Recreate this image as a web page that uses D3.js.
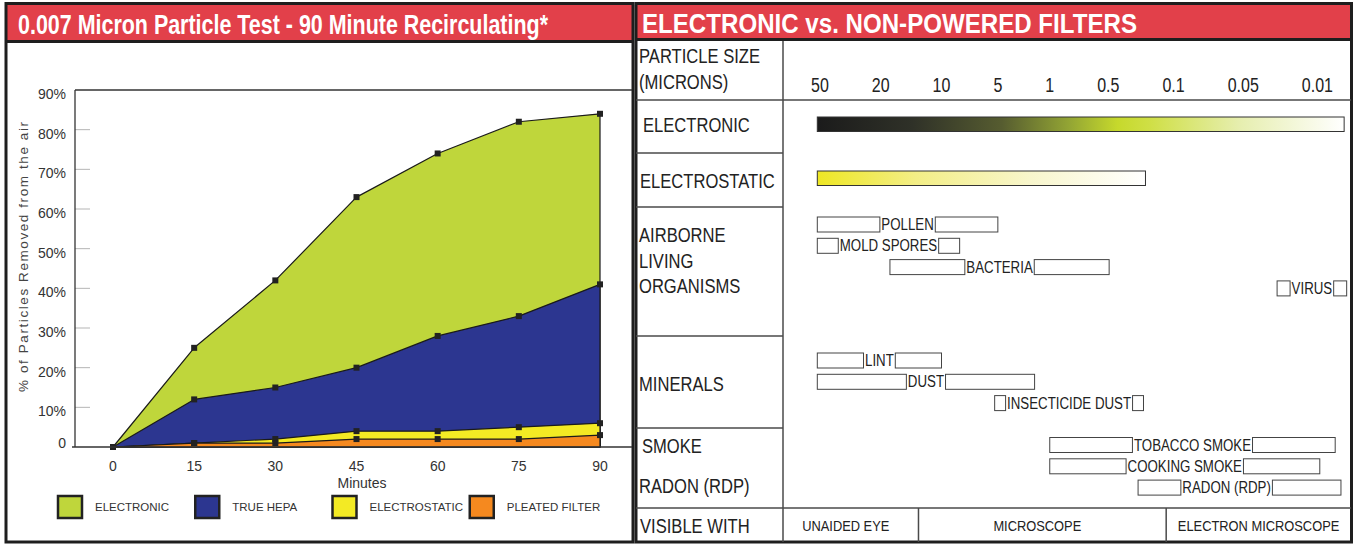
<!DOCTYPE html>
<html><head><meta charset="utf-8">
<script src="https://cdn.jsdelivr.net/npm/d3@7"></script>
<style>body{margin:0;background:#fff}</style>
</head><body><svg id="c" width="1357" height="544"></svg>
<script>
// ---------------- DATA ----------------
const minutes = [0, 15, 30, 45, 60, 75, 90];
const electronic = [0, 25, 42, 63, 74, 82, 84];
const trueHepa = [0, 12, 15, 20, 28, 33, 41];
const electrostatic = [0, 1, 2, 4, 4, 5, 6];
const pleatedFilter = [0, 1, 1, 2, 2, 2, 3];
const seriesNames = ["ELECTRONIC", "TRUE HEPA", "ELECTROSTATIC", "PLEATED FILTER"];
const yTickValues = [0, 10, 20, 30, 40, 50, 60, 70, 80, 90];
const xTickValues = [0, 15, 30, 45, 60, 75, 90];

const sizeTicks = [50, 20, 10, 5, 1, 0.5, 0.1, 0.05, 0.01];
const sizeTickLabels = ["50", "20", "10", "5", "1", "0.5", "0.1", "0.05", "0.01"];
const filterNames = ["ELECTRONIC", "ELECTROSTATIC"];
const filterFrom = [52, 52];
const filterTo = [0.0056, 0.2];
const particleNames = ["POLLEN", "MOLD SPORES", "BACTERIA", "VIRUS", "LINT", "DUST", "INSECTICIDE DUST", "TOBACCO SMOKE", "COOKING SMOKE", "RADON (RDP)"];
const particleGroup = [0, 0, 0, 0, 1, 1, 1, 2, 2, 2];
const particleFrom = [52, 52, 18, 0.024, 52, 52, 5.2, 1, 1, 0.24];
const particleTo = [5, 8, 0.49, 0.0053, 10, 1.6, 0.21, 0.0068, 0.0095, 0.006];
const particleLabelAt = [null, null, null, null, null, null, null, null, null, 0.059];
const visibleWith = ["UNAIDED EYE", "MICROSCOPE", "ELECTRON MICROSCOPE"];
const visibleLimits = [13, 0.12];
const leftTitle = "0.007 Micron Particle Test - 90 Minute Recirculating*";
const rightTitle = "ELECTRONIC vs. NON-POWERED FILTERS";
const rowLabelLines = [["PARTICLE SIZE", "(MICRONS)"], ["ELECTRONIC"], ["ELECTROSTATIC"], ["AIRBORNE", "LIVING", "ORGANISMS"], ["MINERALS"], ["SMOKE"], ["RADON (RDP)"], ["VISIBLE WITH"]];

// ---------------- STYLE / LAYOUT ----------------
const RED = "#e2404a", DARK = "#1e1e1e", LINE = "#4a4a4a";
const sans = "'Liberation Sans',Arial,Helvetica,sans-serif";
const areaColors = ["#bfd63b", "#2c3690", "#f3ea24", "#f5891f"];

function condense(sel, f) {
  const w = sel.node().getComputedTextLength() * f;
  sel.attr("textLength", w).attr("lengthAdjust", "spacingAndGlyphs");
  return w;
}

const svg = d3.select("#c");
svg.append("rect").attr("width", 1357).attr("height", 544).attr("fill", "#fff");
const defs = svg.append("defs");

// ---------- panels ----------
function panel(x0, x1, redBottom) {
  svg.append("rect").attr("x", x0).attr("y", 4).attr("width", x1 - x0).attr("height", redBottom - 4).attr("fill", RED);
  svg.append("line").attr("x1", x0).attr("x2", x1).attr("y1", redBottom + 1.5).attr("y2", redBottom + 1.5)
    .attr("stroke", DARK).attr("stroke-width", 3);
  svg.append("rect").attr("x", x0).attr("y", 3.5).attr("width", x1 - x0).attr("height", 538.5)
    .attr("fill", "none").attr("stroke", DARK).attr("stroke-width", 3);
}
panel(6, 633, 40);
panel(636, 1351.5, 38);

svg.append("text").attr("x", 18).attr("y", 34).text(leftTitle)
  .attr("font-family", sans).attr("font-weight", "bold").attr("font-size", 27.5).attr("fill", "#fff")
  .attr("textLength", 530).attr("lengthAdjust", "spacingAndGlyphs");
svg.append("text").attr("x", 642).attr("y", 33).text(rightTitle)
  .attr("font-family", sans).attr("font-weight", "bold").attr("font-size", 27.5).attr("fill", "#fff")
  .attr("textLength", 495).attr("lengthAdjust", "spacingAndGlyphs");

// ---------- LEFT CHART ----------
const x = d3.scaleLinear().domain([0, 90]).range([113, 600]);
const y = d3.scaleLinear().domain([0, 90]).range([447, 90]);
const g = svg.append("g");

g.selectAll(".gt").data(yTickValues.filter(v => v > 0 && v < 90)).join("line")
  .attr("x1", 75).attr("x2", 90).attr("y1", d => y(d)).attr("y2", d => y(d))
  .attr("stroke", "#b5b5b5").attr("stroke-width", 1);

const seriesVals = [electronic, trueHepa, electrostatic, pleatedFilter];
const area = d3.area().x((d, i) => x(minutes[i])).y0(y(0)).y1(d => y(d));
seriesVals.forEach((vals, k) => {
  g.append("path").attr("d", area(vals)).attr("fill", areaColors[k])
    .attr("stroke", "#1a1a1a").attr("stroke-width", 1.2).attr("stroke-linejoin", "round");
});
seriesVals.forEach(vals => {
  g.selectAll(null).data(vals).join("rect")
    .attr("x", (d, i) => x(minutes[i]) - 3).attr("y", d => y(d) - 3)
    .attr("width", 6).attr("height", 6).attr("fill", "#222");
});

g.append("line").attr("x1", 75).attr("x2", 632).attr("y1", y(90)).attr("y2", y(90)).attr("stroke", "#333").attr("stroke-width", 1.3);
g.append("line").attr("x1", 75).attr("x2", 75).attr("y1", y(90)).attr("y2", y(0)).attr("stroke", "#333").attr("stroke-width", 1.3);
g.append("line").attr("x1", 72).attr("x2", 632).attr("y1", y(0)).attr("y2", y(0)).attr("stroke", "#333").attr("stroke-width", 1.5);

g.selectAll(".yl").data(yTickValues).join("text")
  .attr("x", 66).attr("y", d => d === 0 ? y(d) - 4 : y(d) + 4)
  .attr("dominant-baseline", "central").attr("text-anchor", "end")
  .attr("font-family", sans).attr("font-size", 14).attr("fill", "#333")
  .text(d => d === 0 ? "0" : d + "%");
g.selectAll(".xl").data(xTickValues).join("text")
  .attr("x", d => x(d)).attr("y", 471).attr("text-anchor", "middle")
  .attr("font-family", sans).attr("font-size", 14).attr("fill", "#333").text(d => d);
g.append("text").attr("x", 362).attr("y", 488).attr("text-anchor", "middle")
  .attr("font-family", sans).attr("font-size", 14).attr("fill", "#333").text("Minutes");
g.append("text").attr("transform", "translate(23,257) rotate(-90)")
  .attr("text-anchor", "middle").attr("dominant-baseline", "central")
  .attr("font-family", sans).attr("font-size", 13.5).attr("fill", "#444")
  .attr("textLength", 270).attr("lengthAdjust", "spacing")
  .text("% of Particles Removed from the air");

const lg = d3.scaleBand().domain(seriesNames).range([57, 606]);
const leg = g.selectAll(".leg").data(seriesNames).join("g").attr("transform", d => `translate(${lg(d)},495)`);
leg.append("rect").attr("x", 1).attr("y", 1).attr("width", 24).attr("height", 22)
  .attr("fill", (d, i) => areaColors[i]).attr("stroke", "#222").attr("stroke-width", 2.5);
leg.append("text").attr("x", 38).attr("y", 16).attr("font-family", sans).attr("font-size", 11.5)
  .attr("fill", "#333").text(d => d);

// ---------- RIGHT TABLE ----------
const T = svg.append("g");
const colX = 783, tRight = 1351;
[100, 508].forEach(yy => T.append("line").attr("x1", 636).attr("x2", tRight).attr("y1", yy).attr("y2", yy).attr("stroke", LINE).attr("stroke-width", 1.5));
[153, 207, 336, 428].forEach(yy => T.append("line").attr("x1", 636).attr("x2", colX).attr("y1", yy).attr("y2", yy).attr("stroke", LINE).attr("stroke-width", 1.5));
T.append("line").attr("x1", colX).attr("x2", colX).attr("y1", 41).attr("y2", 542).attr("stroke", LINE).attr("stroke-width", 1.5);

const rowLabelY = [[56, 82], [125], [181], [235, 261, 286], [384], [446], [486], [526]];
const rowLabelX = [[639, 639], [643], [640], [639, 639, 639], [639], [642], [639], [640]];
rowLabelLines.forEach((lines, r) => {
  lines.forEach((t, j) => {
    const s = T.append("text").attr("x", rowLabelX[r][j]).attr("y", rowLabelY[r][j]).attr("dominant-baseline", "central")
      .attr("font-family", sans).attr("font-size", 19.5).attr("fill", "#222").text(t);
    condense(s, 0.85);
  });
});

let cursor = 811;
const centers = [];
sizeTickLabels.forEach(lbl => {
  const t = T.append("text").attr("x", cursor).attr("y", 92)
    .attr("font-family", sans).attr("font-size", 20).attr("fill", "#222").text(lbl);
  const w = condense(t, 0.8);
  centers.push(cursor + w / 2);
  cursor += w + 43;
});
const sx = d3.scaleLog().domain(sizeTicks).range(centers);

const gE = defs.append("linearGradient").attr("id", "gE");
[[0, "#1b1b1b"], [0.18, "#2f3128"], [0.35, "#565c30"], [0.48, "#94a634"], [0.57, "#c6d92c"], [0.63, "#cfdf45"], [0.8, "#e6eeae"], [1, "#ffffff"]]
  .forEach(s => gE.append("stop").attr("offset", s[0]).attr("stop-color", s[1]));
const gS = defs.append("linearGradient").attr("id", "gS");
[[0, "#eee724"], [0.3, "#f3ee86"], [0.65, "#f8f6cc"], [1, "#ffffff"]]
  .forEach(s => gS.append("stop").attr("offset", s[0]).attr("stop-color", s[1]));

const filterTop = [117, 171];
const filterFill = ["url(#gE)", "url(#gS)"];
filterNames.forEach((n, i) => {
  T.append("rect").attr("x", sx(filterFrom[i])).attr("y", filterTop[i])
    .attr("width", sx(filterTo[i]) - sx(filterFrom[i])).attr("height", 14.5)
    .attr("fill", filterFill[i]).attr("stroke", "#333").attr("stroke-width", 1);
});

const groupTop = [217, 353, 437.5];
const itemStep = 21.3;
const groupCount = [0, 0, 0];
particleNames.forEach((name, i) => {
  const gi = particleGroup[i];
  const top = groupTop[gi] + itemStep * groupCount[gi]++;
  const x0 = sx(particleFrom[i]), x1 = sx(particleTo[i]);
  const cx = particleLabelAt[i] == null ? (x0 + x1) / 2 : sx(particleLabelAt[i]);
  const t = T.append("text").attr("x", cx).attr("y", top + 13).attr("text-anchor", "middle")
    .attr("font-family", sans).attr("font-size", 16).attr("fill", "#222").text(name);
  const w = condense(t, 0.83);
  const b1 = cx - w / 2 - 1.5, b2 = cx + w / 2 + 1.5;
  T.append("rect").attr("x", x0).attr("y", top).attr("width", Math.max(3, b1 - x0)).attr("height", 15)
    .attr("fill", "#fff").attr("stroke", "#444").attr("stroke-width", 1);
  T.append("rect").attr("x", b2).attr("y", top).attr("width", Math.max(3, x1 - b2)).attr("height", 15)
    .attr("fill", "#fff").attr("stroke", "#444").attr("stroke-width", 1);
});

const vEdges = [colX, sx(visibleLimits[0]), sx(visibleLimits[1]), tRight];
vEdges.slice(1, 3).forEach(xx => T.append("line").attr("x1", xx).attr("x2", xx).attr("y1", 508).attr("y2", 542)
  .attr("stroke", LINE).attr("stroke-width", 1.5));
const vShift = [-5, -5, 0];
visibleWith.forEach((v, i) => {
  const cx = (vEdges[i] + vEdges[i + 1]) / 2 + vShift[i];
  T.append("text").attr("transform", `translate(${cx},526) scale(0.83,1)`).attr("text-anchor", "middle")
    .attr("dominant-baseline", "central").attr("font-family", sans).attr("font-size", 15.5)
    .attr("fill", "#222").text(v);
});
</script>
</body></html>
